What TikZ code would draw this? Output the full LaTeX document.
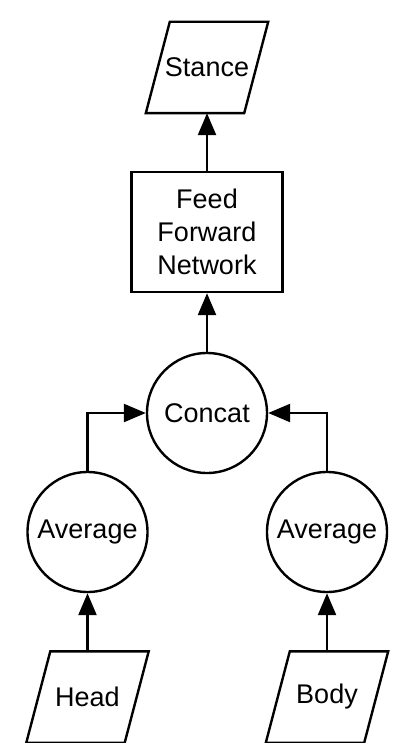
\documentclass[tikz,border=0pt]{standalone}
\usepackage{fontspec}
\setmainfont{Liberation Sans}
\usetikzlibrary{arrows.meta}
\newcommand{\iobox}[1]{\draw ([xshift=12pt]#1.north west) -- (#1.north east)
  -- ([xshift=-12pt]#1.south east) -- (#1.south west) -- cycle;}

\begin{document}
\begin{tikzpicture}[x=0.5pt,y=-0.5pt,line width=1.2pt,
  font=\fontsize{13.5}{16.5}\selectfont,
  io/.style={minimum width=60pt,minimum height=44.5pt,inner sep=0pt},
  op/.style={circle,draw,minimum size=60pt,inner sep=0pt},
  arr/.style={-{Triangle[length=11pt,width=9pt]}}]
\useasboundingbox (0,0) rectangle (393,743);
\node [io] (s) at (207,67.5) {Stance};
\node [draw,minimum width=75.5pt,minimum height=60pt,align=center] (f) at (207,232)
  {Feed\\Forward\\Network};
\node [op] (c) at (207,413) {Concat};
\node [op] (l) at (87.5,532) {Average};
\node [op] (r) at (327,532) {Average};
\node [io] (h) at (87.5,697) {Head};
\node [io] (b) at (327,697) {Body};
\iobox{s}
\iobox{h}
\iobox{b}
\draw [arr] (f) -- (s);
\draw [arr] (c) -- (f);
\draw [arr] (l.north) |- (c.west);
\draw [arr] (r.north) |- (c.east);
\draw [arr] (h) -- (l);
\draw [arr] (b) -- (r);
\end{tikzpicture}
\end{document}
